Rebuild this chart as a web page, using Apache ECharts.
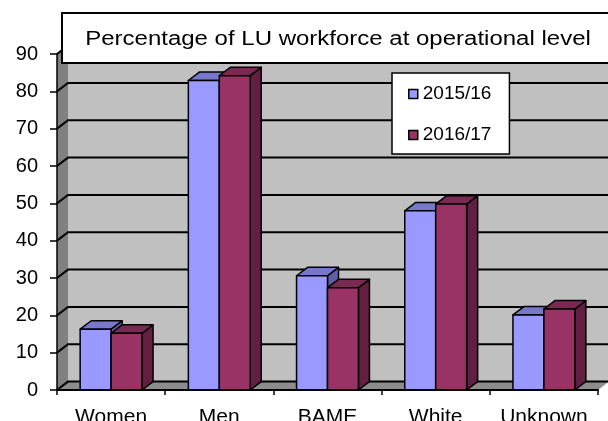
<!DOCTYPE html>
<html><head><meta charset="utf-8">
<script src="https://cdn.jsdelivr.net/npm/echarts@6/dist/echarts.min.js"></script>
<style>html,body{margin:0;padding:0;background:#fff}#c{width:608px;height:421px}</style>
</head><body><div id="c"></div>
<script>
const categories = ['Women', 'Men', 'BAME', 'White', 'Unknown'];
const series2015 = [16.3, 82.9, 30.6, 48.0, 20.1];
const series2016 = [15.2, 84.2, 27.4, 49.8, 21.7];
const seriesNames = ['2015/16', '2016/17'];
const yTicks = [0, 10, 20, 30, 40, 50, 60, 70, 80, 90];
const titleText = 'Percentage of LU workforce at operational level';

const DX = 11, DY = -8.4;
const FONT = '"Liberation Sans", Arial, sans-serif';
const COLORS = [
  { front: '#9999ff', top: '#7777cc', side: '#5f5fa8' },
  { front: '#993366', top: '#7a2952', side: '#631f42' }
];

function wallsRender(params, api) {
  const cs = params.coordSys;
  const x0 = cs.x, x1 = cs.x + cs.width;
  const yb = api.coord([0, yTicks[0]])[1];
  const yt = api.coord([0, yTicks[yTicks.length - 1]])[1];
  const ch = [];
  ch.push({ type: 'rect', shape: { x: x0 + DX, y: yt + DY, width: 700, height: yb - yt }, style: { fill: '#c0c0c0' } });
  ch.push({ type: 'polygon', shape: { points: [[x0, yb], [x0, yt], [x0 + DX, yt + DY], [x0 + DX, yb + DY]] }, style: { fill: '#808080' } });
  ch.push({ type: 'polygon', shape: { points: [[x0, yb], [x1, yb], [x1 + DX, yb + DY], [x0 + DX, yb + DY]] }, style: { fill: '#8c8c8c' } });
  yTicks.forEach(v => {
    const y = api.coord([0, v])[1];
    ch.push({ type: 'polyline', shape: { points: [[x0, y], [x0 + DX, y + DY], [x0 + DX + 700, y + DY]] }, style: { stroke: '#000', lineWidth: 2, fill: null } });
  });
  return { type: 'group', children: ch };
}

function barRender(which) {
  const c = COLORS[which];
  return function (params, api) {
    const idx = api.value(0), v = api.value(1);
    const band = api.size([1, 0])[0];
    const bw = band * 0.286;
    const top = api.coord([idx, v]);
    const base = api.coord([idx, 0]);
    const xl = which === 0 ? top[0] - bw : top[0];
    const xr = xl + bw;
    const yt = top[1], yb = base[1];
    const st = { stroke: '#000', lineWidth: 1.5, lineJoin: 'round' };
    return { type: 'group', children: [
      { type: 'polygon', shape: { points: [[xr, yt], [xr + DX, yt + DY], [xr + DX, yb + DY], [xr, yb]] }, style: Object.assign({ fill: c.side }, st) },
      { type: 'polygon', shape: { points: [[xl, yt], [xr, yt], [xr + DX, yt + DY], [xl + DX, yt + DY]] }, style: Object.assign({ fill: c.top }, st) },
      { type: 'rect', shape: { x: xl, y: yt, width: bw, height: yb - yt }, style: Object.assign({ fill: c.front }, st) }
    ] };
  };
}

const chart = echarts.init(document.getElementById('c'), null, { renderer: 'canvas' });
chart.setOption({
  animation: false,
  backgroundColor: '#fff',
  textStyle: { fontFamily: FONT },
  grid: { left: 57, right: 10, top: 54, bottom: 31, containLabel: false, outerBoundsMode: 'none' },
  xAxis: {
    type: 'category', data: categories, z: 5,
    axisLine: { lineStyle: { color: '#000', width: 2 } },
    axisTick: { show: true, length: 5, lineStyle: { color: '#000', width: 1.5 } },
    axisLabel: { color: '#000', fontSize: 21, fontFamily: FONT, margin: 17, interval: 0, hideOverlap: false },
    splitLine: { show: false }
  },
  yAxis: {
    type: 'value', min: 0, max: 90, interval: 10, z: 5,
    axisLine: { show: true, lineStyle: { color: '#000', width: 1.5 } },
    axisTick: { show: true, length: 7, lineStyle: { color: '#000', width: 1.5 } },
    axisLabel: { color: '#000', fontSize: 20, fontFamily: FONT, margin: 19 },
    splitLine: { show: false }
  },
  legend: {
    orient: 'vertical', left: 392, top: 73, z: 20,
    padding: [11, 18, 9, 16],
    itemGap: 21, itemWidth: 9, itemHeight: 9,
    backgroundColor: '#fff', borderColor: '#000', borderWidth: 1.5, borderRadius: 0,
    textStyle: { color: '#000', fontSize: 19, fontFamily: FONT, lineHeight: 20 },
    data: [
      { name: seriesNames[0], icon: 'rect', itemStyle: { color: COLORS[0].front, borderColor: '#000', borderWidth: 1.5 } },
      { name: seriesNames[1], icon: 'rect', itemStyle: { color: COLORS[1].front, borderColor: '#000', borderWidth: 1.5 } }
    ]
  },
  graphic: [
    { type: 'rect', z: 30, shape: { x: 62, y: 13, width: 600, height: 50 }, style: { fill: '#fff', stroke: '#000', lineWidth: 2 } },
    { type: 'text', z: 31, x: 338, y: 39, scaleX: 1.2, scaleY: 1, style: { text: titleText, fill: '#000', font: '20px ' + FONT, textAlign: 'center', textVerticalAlign: 'middle' } }
  ],
  series: [
    { type: 'custom', name: '_walls', z: 1, silent: true, renderItem: wallsRender, data: [[0, 0]] },
    { type: 'custom', name: seriesNames[0], z: 3, color: COLORS[0].front, renderItem: barRender(0), data: categories.map((c, i) => [i, series2015[i]]) },
    { type: 'custom', name: seriesNames[1], z: 4, color: COLORS[1].front, renderItem: barRender(1), data: categories.map((c, i) => [i, series2016[i]]) }
  ]
});
</script>
</body></html>
